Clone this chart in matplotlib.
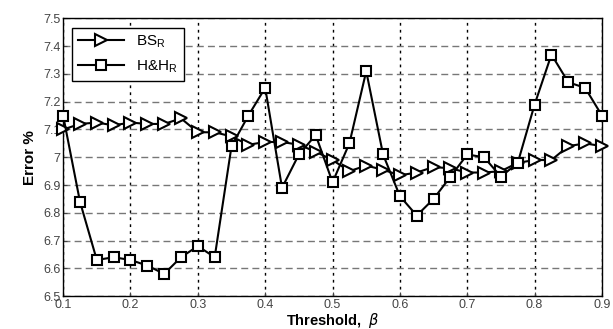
import numpy as np
import matplotlib.pyplot as plt

plt.rcParams['font.family'] = ['Liberation Sans', 'DejaVu Sans']

threshold = [0.1, 0.125, 0.15, 0.175, 0.2, 0.225, 0.25, 0.275, 0.3, 0.325,
             0.35, 0.375, 0.4, 0.425, 0.45, 0.475, 0.5, 0.525, 0.55, 0.575,
             0.6, 0.625, 0.65, 0.675, 0.7, 0.725, 0.75, 0.775, 0.8, 0.825,
             0.85, 0.875, 0.9]

bs_r = [7.10, 7.12, 7.125, 7.115, 7.125, 7.12, 7.12, 7.14, 7.09, 7.09,
        7.075, 7.045, 7.055, 7.055, 7.045, 7.02, 6.99, 6.95, 6.97, 6.955,
        6.935, 6.945, 6.965, 6.96, 6.945, 6.945, 6.95, 6.98, 6.99, 6.99,
        7.04, 7.05, 7.04]

hh_r = [7.15, 6.84, 6.63, 6.64, 6.63, 6.61, 6.58, 6.64, 6.68, 6.64,
        7.04, 7.15, 7.25, 6.89, 7.01, 7.08, 6.91, 7.05, 7.31, 7.01,
        6.86, 6.79, 6.85, 6.93, 7.01, 7.00, 6.93, 6.98, 7.19, 7.37,
        7.27, 7.25, 7.15]

fig = plt.figure(figsize=(6.13, 3.29), dpi=100)
ax = fig.add_axes([0.103, 0.100, 0.879, 0.844])

ax.plot(threshold, bs_r, color='black', linewidth=1.5, marker='>',
        markersize=9, markerfacecolor='white', markeredgewidth=1.5,
        label=r'BS$_\mathregular{R}$', clip_on=False, zorder=3)
ax.plot(threshold, hh_r, color='black', linewidth=1.5, marker='s',
        markersize=7.5, markerfacecolor='white', markeredgewidth=1.5,
        label=r'H&H$_\mathregular{R}$', clip_on=False, zorder=3)

ax.set_xlim(0.1, 0.9)
ax.set_ylim(6.5, 7.5)
xt = np.arange(0.1, 0.91, 0.1)
yt = np.arange(6.5, 7.51, 0.1)
ax.set_xticks(xt)
ax.set_yticks(yt)
ax.set_xticklabels(['%g' % round(v, 1) for v in xt])
ax.set_yticklabels(['%g' % round(v, 1) for v in yt])
ax.tick_params(direction='in', length=3, labelsize=9, colors='#444444',
               pad=2)

ax.xaxis.grid(True, linestyle=(0, (2, 3)), color='black', linewidth=1)
ax.yaxis.grid(True, linestyle=(0, (5, 3)), color='#777777', linewidth=1)
ax.set_axisbelow(True)
for s in ax.spines.values():
    s.set_linewidth(1)

ax.set_xlabel(r'Threshold,  $\beta$', fontsize=10.5, fontweight='bold',
              labelpad=0)
ax.set_ylabel('Error %', fontsize=11, fontweight='bold', labelpad=4)

leg = ax.legend(loc='upper left', fontsize=11, frameon=True, fancybox=False,
                edgecolor='black', handlelength=3, borderaxespad=0.6,
                framealpha=1)
leg.get_frame().set_linewidth(1)
leg.set_zorder(5)

fig.savefig('out.png', dpi=100)
